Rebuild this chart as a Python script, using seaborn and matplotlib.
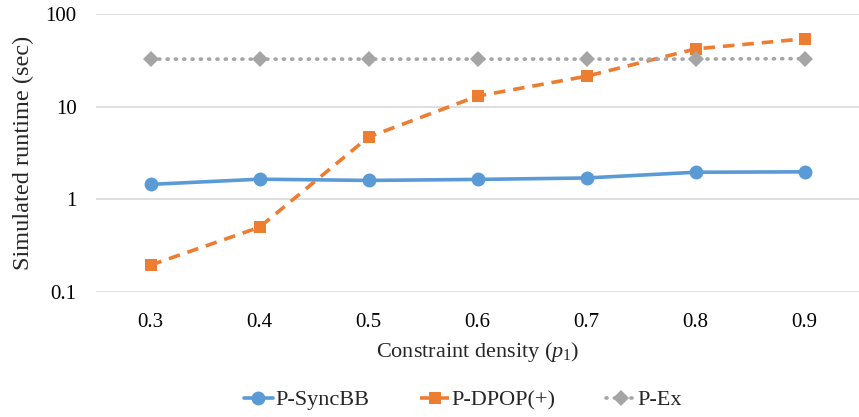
import matplotlib
matplotlib.use("Agg")
import matplotlib.pyplot as plt
import seaborn as sns
import pandas as pd
from matplotlib.ticker import FixedLocator, FixedFormatter, NullLocator

densities = ["0.3", "0.4", "0.5", "0.6", "0.7", "0.8", "0.9"]
syncbb = [1.45, 1.65, 1.60, 1.64, 1.70, 1.96, 1.98]
dpop = [0.195, 0.50, 4.7, 13.0, 21.3, 42.0, 54.0]
pex = [32.6, 32.6, 32.6, 32.6, 32.6, 32.6, 33.0]
series_names = ["P-SyncBB", "P-DPOP(+)", "P-Ex"]
y_ticks = [0.1, 1, 10, 100]
y_tick_labels = ["0.1", "1", "10", "100"]

sns.set_theme(style="white")
plt.rcParams["font.family"] = ["Liberation Serif", "DejaVu Serif"]
plt.rcParams["mathtext.fontset"] = "custom"
plt.rcParams["mathtext.rm"] = "Liberation Serif"
plt.rcParams["mathtext.it"] = "Liberation Serif:italic"

df = pd.DataFrame({
    "density": densities * 3,
    "runtime": syncbb + dpop + pex,
    "series": [series_names[0]] * 7 + [series_names[1]] * 7 + [series_names[2]] * 7,
})

fig = plt.figure(figsize=(8.59, 4.17), dpi=100)
ax = fig.add_axes([96 / 859, 1 - 292 / 417, (859 - 96) / 859, (292 - 14) / 417])

colors = {"P-SyncBB": "#5B9BD5", "P-DPOP(+)": "#ED7D31", "P-Ex": "#A5A5A5"}
styles = {
    "P-SyncBB": dict(linestyle="-", marker="o", markersize=10),
    "P-DPOP(+)": dict(linestyle=(0, (3.2, 2.2)), marker="s", markersize=9),
    "P-Ex": dict(linestyle=(0, (0.3, 2.0)), marker="D", markersize=8.5),
}
for name in series_names:
    sub = df[df["series"] == name]
    st = styles[name]
    sns.lineplot(data=sub, x="density", y="runtime", ax=ax, color=colors[name],
                 linewidth=2.6, linestyle=st["linestyle"], marker=st["marker"],
                 markersize=st["markersize"], markeredgewidth=0, label=name,
                 sort=False, zorder=3)
    if name == "P-Ex":
        ax.lines[-1].set_dash_capstyle("round")

ax.set_yscale("log")
ax.set_ylim(0.1, 100)
ax.set_xlim(-0.5, 6.5)
ax.yaxis.set_major_locator(FixedLocator(y_ticks))
ax.yaxis.set_major_formatter(FixedFormatter(y_tick_labels))
ax.yaxis.set_minor_locator(NullLocator())
ax.grid(axis="y", color="#D9D9D9", linewidth=1.2)
ax.grid(axis="x", visible=False)
for s in ax.spines.values():
    s.set_visible(False)
ax.tick_params(axis="both", length=0, labelsize=15, colors="black")
ax.tick_params(axis="x", pad=15)
ax.tick_params(axis="y", pad=14)
ax.set_xlabel("Constraint density ($\\mathit{p}_{1}$)", fontsize=16, labelpad=6)
ax.set_ylabel("Simulated runtime (sec)", fontsize=17.5, labelpad=8)

leg = ax.legend(loc="center", ncol=3, frameon=False, fontsize=16,
                handlelength=1.3, handletextpad=0.1, columnspacing=2.3,
                borderaxespad=0)
leg.set_bbox_to_anchor((463 / 859, 1 - 400 / 417), transform=fig.transFigure)

fig.savefig("out.png", dpi=100)
